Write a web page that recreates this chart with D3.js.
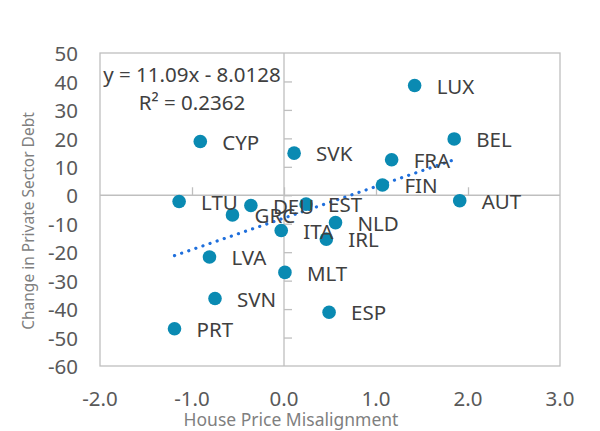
<!DOCTYPE html>
<html>
<head>
<meta charset="utf-8">
<script src="https://cdn.jsdelivr.net/npm/d3@7"></script>
<style>
  body { margin: 0; background: #fff; }
  svg { display: block; font-family: "Noto Sans", "Open Sans", sans-serif; }
</style>
</head>
<body>
<svg class="chart" width="600" height="431"></svg>
<script>
// data
const countries = ['CYP', 'LUX', 'BEL', 'SVK', 'FRA', 'FIN', 'AUT', 'LTU', 'GRC', 'DEU',
                   'EST', 'ITA', 'NLD', 'IRL', 'LVA', 'MLT', 'SVN', 'PRT', 'ESP'];
const housePrice = [-0.91, 1.42, 1.85, 0.11, 1.17, 1.07, 1.91, -1.14, -0.56, -0.36,
                    0.24, -0.03, 0.56, 0.46, -0.81, 0.01, -0.75, -1.19, 0.49];
const debtChange = [18.9, 38.6, 19.8, 14.8, 12.5, 3.6, -1.9, -2.2, -6.9, -3.6,
                    -3.1, -12.4, -9.6, -15.4, -21.7, -27.1, -36.3, -46.9, -41.1];
const xTicks = [-2, -1, 0, 1, 2, 3];
const yTicks = [50, 40, 30, 20, 10, 0, -10, -20, -30, -40, -50, -60];
const slope = 11.09;
const intercept = -8.0128;
const rSquared = '0.2362';

const svg = d3.select('.chart');

// plot box
const plotLeft = 100, plotRight = 560, plotTop = 53, plotBottom = 366;

const x = d3.scaleLinear().domain([-2, 3]).range([plotLeft, plotRight]);
const y = d3.scaleLinear().domain([-60, 50]).range([plotBottom, plotTop]);

const grey = '#bfbfbf';
const fontSize = 20.5;

// outer frame
svg.append('rect')
  .attr('x', plotLeft).attr('y', plotTop)
  .attr('width', plotRight - plotLeft).attr('height', plotBottom - plotTop)
  .attr('fill', 'none').attr('stroke', grey).attr('stroke-width', 1.3);

// axes crossing at zero
const xAxis = d3.axisTop(x).tickValues(xTicks.filter(d => d > -2 && d < 3))
  .tickSize(8).tickFormat('');
svg.append('g')
  .attr('transform', `translate(0,${y(0)})`)
  .call(xAxis)
  .call(g => g.select('.domain').remove())
  .call(g => g.selectAll('line').attr('stroke', grey).attr('stroke-width', 1.3));

svg.append('line')
  .attr('x1', plotLeft).attr('x2', plotRight)
  .attr('y1', y(0)).attr('y2', y(0))
  .attr('stroke', grey).attr('stroke-width', 1.3);

const yAxis = d3.axisRight(y).tickValues(yTicks.filter(d => d < 50 && d > -60))
  .tickSize(8).tickFormat('');
svg.append('g')
  .attr('transform', `translate(${x(0)},0)`)
  .call(yAxis)
  .call(g => g.select('.domain').remove())
  .call(g => g.selectAll('line').attr('stroke', grey).attr('stroke-width', 1.3));

svg.append('line')
  .attr('x1', x(0)).attr('x2', x(0))
  .attr('y1', plotTop).attr('y2', plotBottom)
  .attr('stroke', grey).attr('stroke-width', 1.3);

// tick labels
svg.append('g')
  .selectAll('text')
  .data(yTicks)
  .join('text')
  .attr('x', 78)
  .attr('y', d => y(d) + 1)
  .attr('dy', '0.35em')
  .attr('text-anchor', 'end')
  .attr('font-size', fontSize)
  .attr('fill', '#595959')
  .text(d => d);

svg.append('g')
  .selectAll('text')
  .data(xTicks)
  .join('text')
  .attr('x', d => x(d))
  .attr('y', 406)
  .attr('text-anchor', 'middle')
  .attr('font-size', fontSize)
  .attr('fill', '#595959')
  .text(d => d3.format('.1f')(d).replace('−', '-'));

// axis titles
svg.append('text')
  .attr('x', 291).attr('y', 426)
  .attr('text-anchor', 'middle')
  .attr('font-size', 17.5)
  .attr('fill', '#7f7f7f')
  .text('House Price Misalignment');

svg.append('text')
  .attr('transform', 'translate(34,221) rotate(-90)')
  .attr('text-anchor', 'middle')
  .attr('font-size', 15.5)
  .attr('fill', '#7f7f7f')
  .text('Change in Private Sector Debt');

// linear trendline
const xMin = d3.min(housePrice), xMax = d3.max(housePrice);
const context = d3.path();
context.moveTo(x(xMin), y(slope * xMin + intercept));
context.lineTo(x(xMax - 0.07), y(slope * (xMax - 0.07) + intercept));
svg.append('path')
  .attr('d', context.toString())
  .attr('fill', 'none')
  .attr('stroke', '#1f6fdc')
  .attr('stroke-width', 3.2)
  .attr('stroke-linecap', 'round')
  .attr('stroke-dasharray', '0.1 7.4');

// points
const points = countries.map((c, i) => ({ name: c, hx: housePrice[i], dy: debtChange[i] }));

svg.append('g')
  .selectAll('circle')
  .data(points)
  .join('circle')
  .attr('cx', d => x(d.hx))
  .attr('cy', d => y(d.dy))
  .attr('r', 6.8)
  .attr('fill', '#0a8ab2');

svg.append('g')
  .selectAll('text')
  .data(points)
  .join('text')
  .attr('x', d => x(d.hx) + 22)
  .attr('y', d => y(d.dy) + 1)
  .attr('dy', '0.35em')
  .attr('font-size', fontSize)
  .attr('fill', '#404040')
  .text(d => d.name);

// trendline equation
svg.append('text')
  .attr('x', 192).attr('y', 82)
  .attr('text-anchor', 'middle')
  .attr('font-size', fontSize)
  .attr('fill', '#404040')
  .text(`y = ${slope}x - ${Math.abs(intercept)}`);

svg.append('text')
  .attr('x', 192).attr('y', 110)
  .attr('text-anchor', 'middle')
  .attr('font-size', fontSize)
  .attr('fill', '#404040')
  .text(`R² = ${rSquared}`);
</script>
</body>
</html>
